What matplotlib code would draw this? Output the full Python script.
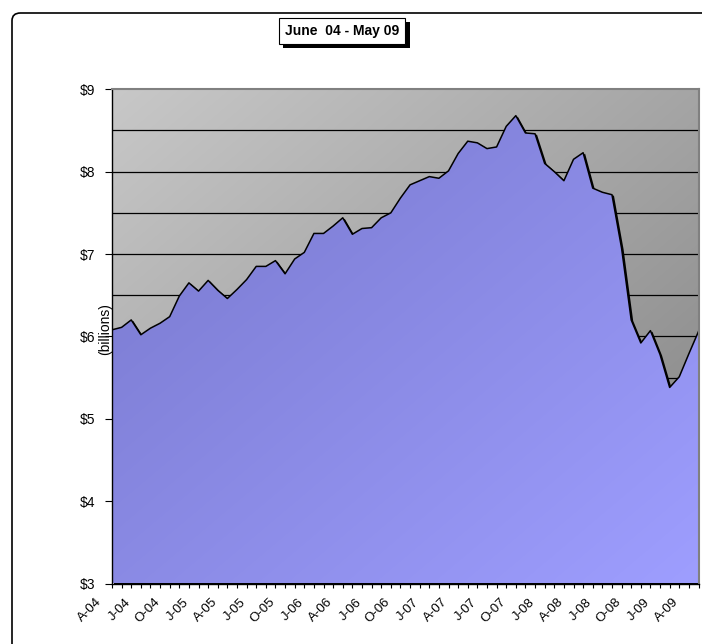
import numpy as np
import matplotlib
matplotlib.use('Agg')
import matplotlib.pyplot as plt
import matplotlib.transforms as mtransforms
import matplotlib.patheffects as pe
from matplotlib.patches import FancyBboxPatch, Polygon

# monthly values in $ billions, Apr-04 .. May-09
values = [6.08, 6.11, 6.20, 6.02, 6.10, 6.16, 6.24, 6.49, 6.65, 6.55,
          6.68, 6.56, 6.46, 6.57, 6.69, 6.85, 6.85, 6.92, 6.76, 6.94,
          7.02, 7.25, 7.25, 7.34, 7.44, 7.24, 7.31, 7.32, 7.44, 7.50,
          7.68, 7.84, 7.89, 7.94, 7.92, 8.01, 8.22, 8.37, 8.35, 8.28,
          8.30, 8.55, 8.68, 8.47, 8.46, 8.10, 8.00, 7.89, 8.15, 8.23,
          7.80, 7.75, 7.72, 7.07, 6.20, 5.92, 6.07, 5.78, 5.38, 5.51,
          5.79, 6.06]
tick_labels = ['A-04', 'J-04', 'O-04', 'J-05', 'A-05', 'J-05', 'O-05',
               'J-06', 'A-06', 'J-06', 'O-06', 'J-07', 'A-07', 'J-07',
               'O-07', 'J-08', 'A-08', 'J-08', 'O-08', 'J-09', 'A-09']
y_ticks = [3, 4, 5, 6, 7, 8, 9]
title = 'June  04 - May 09'

plt.rcParams['font.family'] = ['Liberation Sans', 'DejaVu Sans']

W, H = 702, 644
fig = plt.figure(figsize=(W / 100, H / 100), dpi=100)
fig.patch.set_facecolor('white')

x0, x1 = 112, 698.5
ytop, ybot = 89.3, 583.5
ax = fig.add_axes([x0 / W, 1 - ybot / H, (x1 - x0) / W, (ybot - ytop) / H])

x = np.arange(len(values))
y = np.array(values)
ax.set_xlim(0, len(values) - 1)
ax.set_ylim(3, 9)


def diag_gradient(c0, c1, n=256):
    gx, gy = np.meshgrid(np.linspace(0, 1, n), np.linspace(0, 1, n))
    t = (gx + gy) / 2  # top-left -> bottom-right (origin upper)
    c0 = np.array(c0) / 255.0
    c1 = np.array(c1) / 255.0
    return c0 + (c1 - c0) * t[..., None]


# plot-area background
ax.imshow(diag_gradient((200, 200, 200), (130, 130, 130)), extent=[0, 1, 0, 1],
          transform=ax.transAxes, aspect='auto', zorder=0, interpolation='bilinear')

# gridlines every 0.5
for g in np.arange(3.5, 9.0, 0.5):
    ax.axhline(g, color='black', lw=0.9, zorder=1)

# area polygon with a small drop shadow
verts = [(0, 3)] + list(zip(x, y)) + [(x[-1], 3)]
shadow_tr = ax.transData + mtransforms.ScaledTranslation(2 / 100, -1 / 100, fig.dpi_scale_trans)
shadow = Polygon(verts, closed=True, facecolor='black', edgecolor='none',
                 transform=shadow_tr, zorder=2)
ax.add_patch(shadow)

clip = Polygon(verts, closed=True, facecolor='none', edgecolor='none', transform=ax.transData)
ax.add_patch(clip)
im = ax.imshow(diag_gradient((118, 118, 202), (158, 158, 255)), extent=[0, 1, 0, 1],
               transform=ax.transAxes, aspect='auto', zorder=3, interpolation='bilinear')
im.set_clip_path(clip)

ax.plot(x, y, color='black', lw=1.1, zorder=4)
ax.plot([x[-1], x[-1]], [y[-1], 3], color='black', lw=2.0, zorder=4)

# spines
for s in ['top', 'right']:
    ax.spines[s].set_color('#808080')
    ax.spines[s].set_linewidth(1.5)
    ax.spines[s].set_zorder(5)
for s in ['left', 'bottom']:
    ax.spines[s].set_color('black')
    ax.spines[s].set_linewidth(1.0)
    ax.spines[s].set_zorder(5)

ax.set_yticks(y_ticks)
ax.set_yticklabels(['$%d' % v for v in y_ticks], fontsize=10)
ax.tick_params(axis='y', direction='out', length=5, width=0.8, pad=7)

ax.set_xticks(np.arange(0, len(values), 3))
ax.set_xticklabels(tick_labels, fontsize=9.5, rotation=45, ha='right',
                   va='center', rotation_mode='anchor')
ax.set_xticks(x, minor=True)
ax.tick_params(axis='x', which='both', direction='out', length=3, width=0.8, pad=9)
offset = mtransforms.ScaledTranslation(-12 / 100, 0, fig.dpi_scale_trans)
for lab in ax.get_xticklabels():
    lab.set_transform(lab.get_transform() + offset)

fig.text(105 / W, 1 - 329 / H, '(billions)', rotation=90, fontsize=10,
         ha='center', va='center')

# chart-area border
fig.add_artist(FancyBboxPatch((12 / W, -0.05), 1.0, 1 - 13 / H + 0.05,
                              boxstyle='round,pad=0,rounding_size=0.012',
                              transform=fig.transFigure, facecolor='none',
                              edgecolor='black', lw=1.2, zorder=0))

# title box with shadow
t = fig.text(342 / W, 1 - 31 / H, title, fontsize=10, fontweight='bold',
             ha='center', va='center',
             bbox=dict(boxstyle='square,pad=0.45', facecolor='white', edgecolor='black', lw=0.8))
t.get_bbox_patch().set_path_effects([
    pe.SimplePatchShadow(offset=(3, -3), shadow_rgbFace='black', alpha=1.0),
    pe.Normal()])

fig.savefig('out.png', dpi=100)
